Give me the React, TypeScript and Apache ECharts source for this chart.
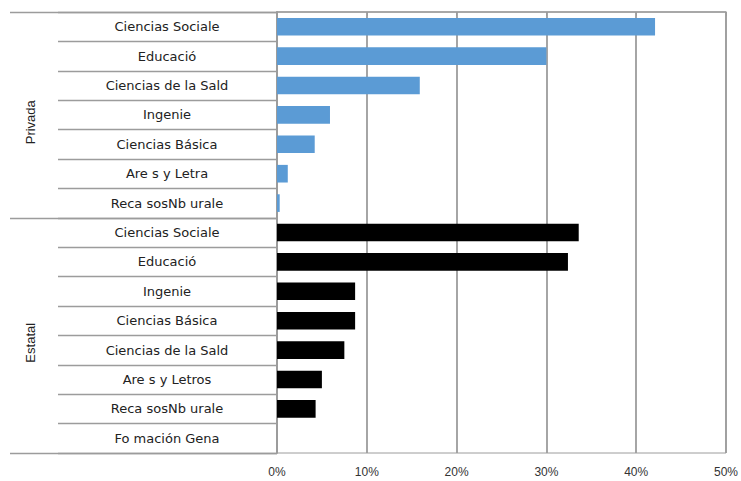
import React, { useEffect, useRef } from "react";
import * as echarts from "echarts";

const privadaCategories = [
  "Ciencias Sociale",
  "Educació",
  "Ciencias de la Sald",
  "Ingenie",
  "Ciencias Básica",
  "Are s y Letra",
  "Reca sosNb urale",
];
const privadaValues = [0.421, 0.3, 0.159, 0.059, 0.042, 0.012, 0.003];

const estatalCategories = [
  "Ciencias Sociale",
  "Educació",
  "Ingenie",
  "Ciencias Básica",
  "Ciencias de la Sald",
  "Are s y Letros",
  "Reca sosNb urale",
  "Fo mación Gena",
];
const estatalValues = [0.336, 0.324, 0.087, 0.087, 0.075, 0.05, 0.043, 0];

const groupNames = ["Privada", "Estatal"];
const xTicks = [0, 0.1, 0.2, 0.3, 0.4, 0.5];

export default function App() {
  const ref = useRef<HTMLDivElement>(null);
  useEffect(() => {
    document.body.style.margin = "0";
    if (!ref.current) return;
    const chart = echarts.init(ref.current, null, { renderer: "svg" });
    const categories = [...privadaCategories, ...estatalCategories];
    const nP = privadaCategories.length;
    const nTotal = categories.length;
    const privData = categories.map((_, i) => (i < nP ? privadaValues[i] : "-"));
    const estData = categories.map((_, i) => (i >= nP ? estatalValues[i - nP] : "-"));
    const gray = "#9c9c9c";
    chart.setOption({
      animation: false,
      textStyle: { fontFamily: "Liberation Sans, Arial, sans-serif" },
      grid: {
        left: 277,
        right: 9,
        top: 12,
        bottom: 28,
        show: true,
        borderColor: gray,
        borderWidth: 1,
      },
      xAxis: {
        type: "value",
        min: xTicks[0],
        max: xTicks[xTicks.length - 1],
        interval: 0.1,
        axisLine: { show: true, lineStyle: { color: gray, width: 1.5 } },
        axisTick: { show: true, length: 4, lineStyle: { color: gray } },
        splitLine: { show: true, lineStyle: { color: gray, width: 1.8 } },
        axisLabel: {
          color: "#333",
          fontSize: 12,
          margin: 13,
          formatter: (v: number) => Math.round(v * 100) + "%",
        },
      },
      yAxis: [
        {
          type: "category",
          data: categories,
          inverse: true,
          position: "left",
          axisLine: { show: true, lineStyle: { color: gray, width: 1.8 } },
          axisTick: { show: true, length: 219, lineStyle: { color: gray, width: 1.4 } },
          axisLabel: {
            color: "#222",
            fontSize: 13,
            fontFamily: "DejaVu Sans, sans-serif",
            align: "center",
            margin: 110,
          },
        },
        {
          type: "value",
          min: 0,
          max: nTotal,
          inverse: true,
          position: "left",
          axisLine: { show: false },
          splitLine: { show: false },
          axisTick: {
            show: true,
            customValues: [0, nP, nTotal],
            length: 267,
            lineStyle: { color: gray, width: 1.4 },
          },
          axisLabel: {
            show: true,
            customValues: [nP / 2 + 0.25, nP + (nTotal - nP) / 2 + 0.25],
            formatter: (v: number) => (v < nP ? groupNames[0] : groupNames[1]),
            rotate: 90,
            color: "#222",
            fontSize: 13,
            margin: 240,
          },
        },
      ],
      series: [
        {
          type: "bar",
          name: groupNames[0],
          stack: "a",
          yAxisIndex: 0,
          data: privData,
          barWidth: "60%",
          itemStyle: { color: "#5b9bd5" },
        },
        {
          type: "bar",
          name: groupNames[1],
          stack: "a",
          yAxisIndex: 0,
          data: estData,
          barWidth: "60%",
          itemStyle: { color: "#000000" },
        },
      ],
    });
    return () => chart.dispose();
  }, []);
  return <div ref={ref} style={{ width: 741, height: 481 }} />;
}
